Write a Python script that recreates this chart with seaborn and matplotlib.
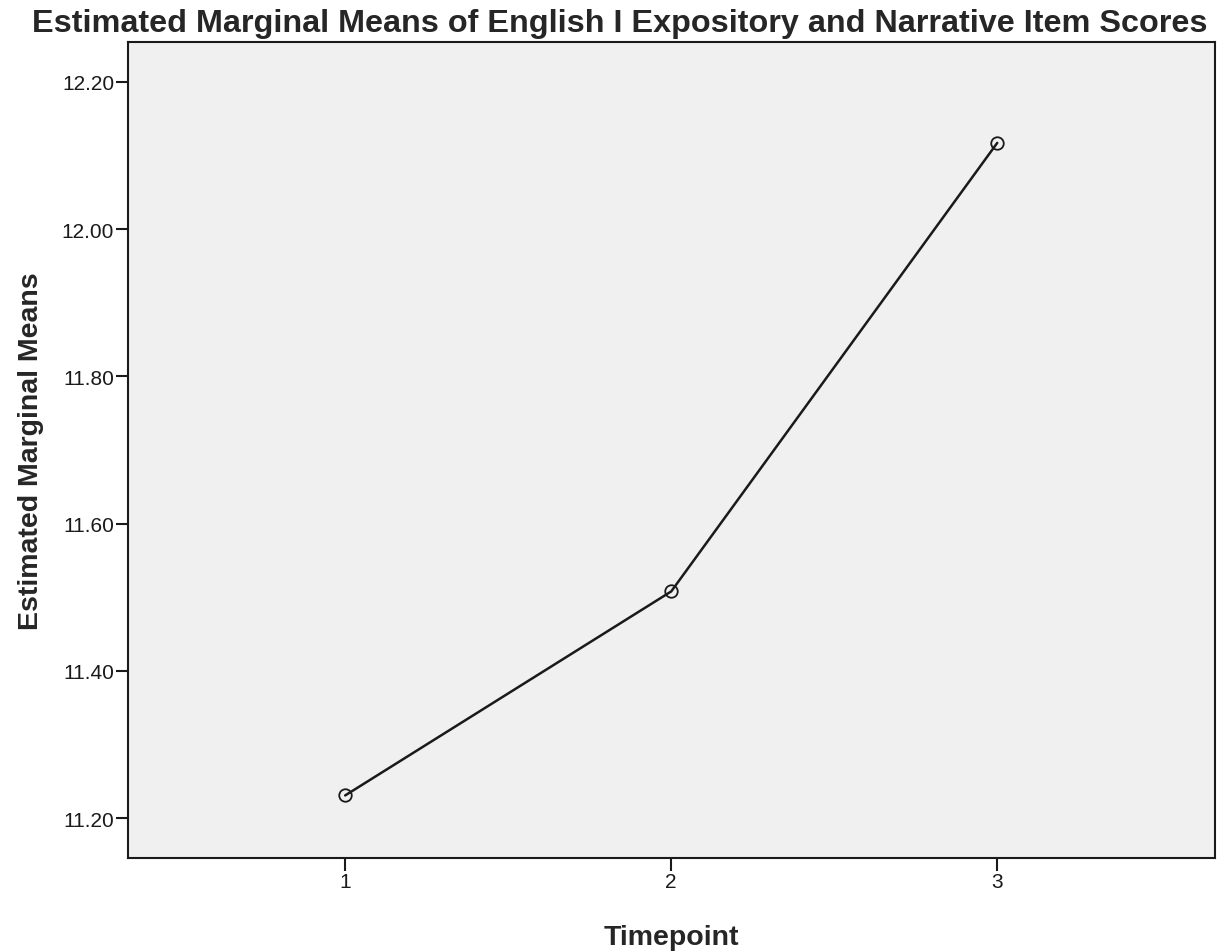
import matplotlib
import matplotlib.pyplot as plt
import pandas as pd
import seaborn as sns

matplotlib.use("Agg")

# Values
timepoints = [1, 2, 3]
means = [11.231, 11.508, 12.117]
y_ticks = [11.20, 11.40, 11.60, 11.80, 12.00, 12.20]

df = pd.DataFrame({"Timepoint": timepoints, "Mean": means})

sns.set_style("ticks")
plt.rcParams["font.family"] = ["Liberation Sans", "DejaVu Sans"]

fig = plt.figure(figsize=(12.23, 9.53), dpi=100)
ax = fig.add_axes([0.1047, 0.0986, 0.8888, 0.8563])
ax.set_facecolor("#f0f0f0")

sns.lineplot(data=df, x="Timepoint", y="Mean", ax=ax, color="#1a1a1a",
             linewidth=1.8, marker="o", markersize=9, markerfacecolor="none",
             markeredgecolor="#1a1a1a", markeredgewidth=1.3)

ax.set_xlim(0.334, 3.668)
ax.set_ylim(11.146, 12.254)
ax.set_xticks(timepoints)
ax.set_xticklabels([str(t) for t in timepoints])
ax.set_yticks(y_ticks)
ax.set_yticklabels([f"{v:.2f}" for v in y_ticks])
ax.tick_params(axis="both", labelsize=15, length=9, width=1.5, color="#1a1a1a",
               labelcolor="#1a1a1a", pad=1)

for s in ax.spines.values():
    s.set_linewidth(1.5)
    s.set_color("#1a1a1a")

ax.set_xlabel("Timepoint", fontsize=20.5, fontweight="bold", labelpad=24)
ax.set_ylabel("Estimated Marginal Means", fontsize=20.5, fontweight="bold", labelpad=13)
fig.suptitle("Estimated Marginal Means of English I Expository and Narrative Item Scores",
             fontsize=23.3, fontweight="bold", x=0.507, y=0.991, va="top")

fig.savefig("out.png", dpi=100)
